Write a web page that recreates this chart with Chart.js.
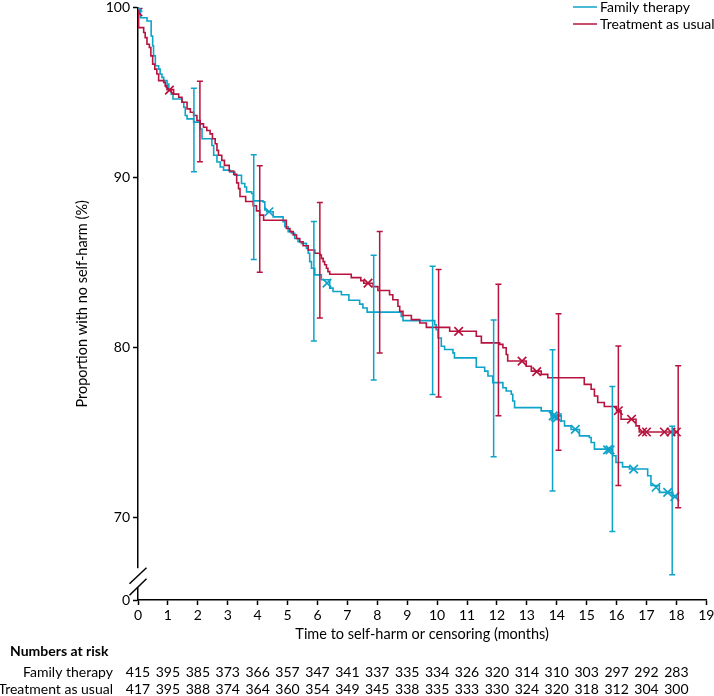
<!DOCTYPE html>
<html>
<head>
<meta charset="utf-8">
<script src="https://cdn.jsdelivr.net/npm/chart.js@4.4.1/dist/chart.umd.min.js"></script>
<style>
  html, body { margin: 0; padding: 0; background: #fff; }
  #wrap { width: 714px; height: 696px; }
</style>
</head>
<body>
<div id="wrap"><canvas id="kmChart" width="714" height="696"></canvas></div>
<script>
// Kaplan-Meier curves (step times in months, survival in %)
const ftTimes = [0, 0.08, 0.30, 0.44, 0.49, 0.52, 0.58, 0.69, 0.74, 0.80, 0.86, 0.97, 1.03, 1.11, 1.17, 1.47, 1.53, 1.58, 1.64, 1.86,
  2.08, 2.14, 2.47, 2.53, 2.64, 2.75, 2.86, 3.07, 3.24, 3.46, 3.57, 3.63, 3.80, 3.85, 4.18, 4.24, 4.30, 4.52, 4.85, 4.91,
  5.02, 5.13, 5.24, 5.35, 5.46, 5.63, 5.69, 5.74, 5.80, 5.91, 6.13, 6.41, 6.52, 6.80, 7.05, 7.41, 7.52, 7.66, 8.80, 8.86,
  9.92, 9.97, 10.03, 10.14, 10.25, 10.53, 10.58, 11.31, 11.59, 11.70, 11.86, 12.20, 12.31, 12.48, 12.53, 12.59, 13.48, 13.81,
  14.15, 14.26, 14.48, 14.76, 15.09, 15.15, 15.26, 15.87, 15.98, 16.20, 16.43, 17.04, 17.15, 17.43, 17.88, 18.00];
const ftSurv = [100, 99.41, 99.22, 98.34, 97.76, 97.17, 96.59, 96.39, 96.10, 95.90, 95.71, 95.51, 95.18, 94.92, 94.63, 94.44, 94.15, 93.66, 93.46, 93.27,
  92.87, 92.29, 91.90, 91.32, 90.93, 90.63, 90.45, 90.34, 90.15, 89.66, 89.46, 89.17, 89.07, 88.64, 88.58, 88.10, 88.00, 87.70, 87.41, 87.12,
  86.83, 86.73, 86.43, 86.24, 86.14, 85.85, 85.56, 85.07, 84.68, 84.29, 84.00, 83.51, 83.31, 83.12, 82.80, 82.57, 82.34, 82.10, 81.85, 81.60,
  81.36, 81.07, 80.58, 80.09, 79.90, 79.70, 79.41, 78.86, 78.63, 78.34, 77.95, 77.65, 77.46, 77.27, 76.87, 76.48, 76.29, 76.00,
  75.70, 75.41, 75.20, 74.82, 74.73, 74.43, 74.04, 73.65, 73.26, 73.00, 72.87, 72.48, 71.90, 71.50, 71.31, 71.12];

const tauTimes = [0, 0.02, 0.19, 0.24, 0.30, 0.38, 0.43, 0.49, 0.56, 0.63, 0.69, 0.86, 0.91, 0.97, 1.19, 1.36, 1.47, 1.64, 1.75, 1.86,
  1.97, 2.08, 2.19, 2.30, 2.41, 2.49, 2.58, 2.64, 2.69, 2.80, 2.89, 3.05, 3.20, 3.30, 3.36, 3.41, 3.60, 3.85, 3.96, 4.07,
  4.20, 4.96, 5.08, 5.19, 5.30, 5.41, 5.52, 5.69, 5.91, 6.08, 6.13, 6.19, 6.24, 6.30, 6.35, 6.41, 7.13, 7.45, 7.55, 7.86,
  8.02, 8.41, 8.52, 8.69, 8.75, 8.86, 9.14, 9.42, 9.64, 10.42, 11.31, 11.48, 12.09, 12.20, 12.31, 12.36, 12.98, 13.15, 13.48, 13.70,
  14.92, 15.15, 15.26, 15.37, 15.59, 16.00, 16.15, 16.65, 16.76, 18.05];
const tauSurv = [100, 98.83, 98.54, 98.24, 97.85, 97.66, 97.17, 96.68, 96.39, 96.10, 95.71, 95.61, 95.42, 95.18, 94.92, 94.73, 94.44, 94.05, 93.85, 93.66,
  93.37, 93.17, 92.97, 92.78, 92.58, 92.29, 92.00, 91.61, 91.32, 91.02, 90.73, 90.40, 90.20, 89.70, 89.36, 88.90, 88.60, 88.35, 88.05, 87.80,
  87.50, 87.02, 86.83, 86.63, 86.43, 86.24, 86.00, 85.75, 85.56, 85.46, 85.26, 85.07, 84.88, 84.68, 84.48, 84.33, 84.13, 83.95, 83.80, 83.60,
  83.37, 83.12, 82.83, 82.44, 82.14, 81.90, 81.66, 81.46, 81.20, 80.97, 80.68, 80.29, 80.20, 80.00, 79.61, 79.22, 78.92, 78.63, 78.44, 78.24,
  77.85, 77.56, 77.17, 76.78, 76.55, 76.30, 75.80, 75.41, 75.05, 75.05];

// censoring marks
const ftCensT = [0, 4.38, 6.32, 13.88, 13.95, 14.02, 14.62, 15.70, 15.78, 16.57, 17.32, 17.71, 17.95];
const ftCensS = [100, 88.0, 83.8, 76.0, 75.95, 75.9, 75.2, 74.0, 74.0, 72.87, 71.8, 71.5, 71.25];
const tauCensT = [0, 1.05, 7.69, 10.72, 12.84, 13.33, 16.06, 16.50, 16.87, 17.00, 17.60, 17.82, 18.00];
const tauCensS = [99.75, 95.15, 83.8, 80.97, 79.22, 78.6, 76.3, 75.8, 75.05, 75.05, 75.05, 75.05, 75.05];

// 95% CI bars
const ftCiT = [1.87, 3.87, 5.88, 7.88, 9.85, 11.89, 13.86, 15.86, 17.86];
const ftCiLo = [90.35, 85.2, 80.4, 78.1, 77.25, 73.6, 71.58, 69.2, 66.65];
const ftCiHi = [95.26, 91.35, 87.43, 85.44, 84.8, 81.64, 79.88, 77.72, 75.38];
const tauCiT = [2.07, 4.07, 6.08, 8.08, 10.05, 12.05, 14.06, 16.06, 18.06];
const tauCiLo = [90.94, 84.44, 81.75, 79.7, 77.1, 76.0, 73.98, 71.9, 70.6];
const tauCiHi = [95.67, 90.7, 88.54, 86.84, 84.6, 83.74, 82.0, 80.1, 78.95];

// axes
const xTickLabels = ['0', '1', '2', '3', '4', '5', '6', '7', '8', '9', '10', '11', '12', '13', '14', '15', '16', '17', '18', '19'];
const Y_FLOOR = 65.17;   // where the broken axis shows "0"
const Y_BREAK = 66.48;
const yTickValues = [Y_FLOOR, 70, 80, 90, 100];
const yTickLabels = ['0', '70', '80', '90', '100'];

// numbers at risk, month 0..18
const riskRows = ['Family therapy', 'Treatment as usual'];
const riskFT = [415, 395, 385, 373, 366, 357, 347, 341, 337, 335, 334, 326, 320, 314, 310, 303, 297, 292, 283];
const riskTAU = [417, 395, 388, 374, 364, 360, 354, 349, 345, 338, 335, 333, 330, 324, 320, 318, 312, 304, 300];

const BLUE = '#0ea3c9';
const RED = '#b8133f';
const FONT = 'Lato, "Liberation Sans", sans-serif';
const FS = 14;        // ticks, legend, table
const FS_TITLE = 14.5;

const toPts = (xs, ys) => xs.map((x, i) => ({ x: x, y: ys[i] }));

const overlay = {
  id: 'overlay',
  afterDatasetsDraw(chart) {
    const { ctx, scales: { x, y } } = chart;
    const bars = [[ftCiT, ftCiLo, ftCiHi, BLUE], [tauCiT, tauCiLo, tauCiHi, RED]];
    ctx.save();
    ctx.lineWidth = 1.5;
    bars.forEach(([ts, lo, hi, col]) => {
      ctx.strokeStyle = col;
      ts.forEach((t, i) => {
        const px = x.getPixelForValue(t);
        const y1 = y.getPixelForValue(lo[i]);
        const y2 = y.getPixelForValue(hi[i]);
        ctx.beginPath();
        ctx.moveTo(px, y1); ctx.lineTo(px, y2);
        ctx.moveTo(px - 3, y1); ctx.lineTo(px + 3, y1);
        ctx.moveTo(px - 3, y2); ctx.lineTo(px + 3, y2);
        ctx.stroke();
      });
    });
    ctx.restore();
  },
  afterDraw(chart) {
    const { ctx, scales: { x, y } } = chart;
    ctx.save();
    // broken y axis
    const ax = x.getPixelForValue(0);
    const yb = y.getPixelForValue(Y_BREAK);
    ctx.fillStyle = '#fff';
    ctx.fillRect(ax - 3, yb - 9.5, 6, 19);
    ctx.strokeStyle = '#000';
    ctx.lineWidth = 1.5;
    ctx.beginPath();
    ctx.moveTo(ax - 8.5, yb + 6); ctx.lineTo(ax + 8.5, yb - 10);
    ctx.moveTo(ax - 8.5, yb + 17.5); ctx.lineTo(ax + 8.5, yb + 1);
    ctx.stroke();

    // legend
    ctx.font = FS + 'px ' + FONT;
    ctx.textBaseline = 'middle';
    ctx.textAlign = 'left';
    [['Family therapy', BLUE, 7], ['Treatment as usual', RED, 24]].forEach(([txt, col, ly]) => {
      ctx.strokeStyle = col;
      ctx.beginPath();
      ctx.moveTo(573, ly); ctx.lineTo(597, ly);
      ctx.stroke();
      ctx.fillStyle = '#000';
      ctx.fillText(txt, 600, ly);
    });

    // numbers at risk
    ctx.fillStyle = '#000';
    ctx.font = 'bold ' + FS + 'px ' + FONT;
    ctx.fillText('Numbers at risk', 10, 651);
    ctx.font = FS + 'px ' + FONT;
    ctx.textAlign = 'right';
    ctx.fillText(riskRows[0], 113, 672);
    ctx.fillText(riskRows[1], 113, 689);
    ctx.textAlign = 'center';
    riskFT.forEach((n, i) => ctx.fillText(String(n), x.getPixelForValue(i), 672));
    riskTAU.forEach((n, i) => ctx.fillText(String(n), x.getPixelForValue(i), 689));
    ctx.restore();
  }
};

const lineDs = (label, pts, col) => ({
  type: 'line',
  label: label,
  data: pts,
  borderColor: col,
  borderWidth: 1.6,
  stepped: 'before',
  pointRadius: 0,
  fill: false,
  tension: 0
});

const censDs = (label, pts, col) => ({
  type: 'scatter',
  label: label,
  data: pts,
  borderColor: col,
  backgroundColor: col,
  pointStyle: 'crossRot',
  pointRadius: 6,
  borderWidth: 1.7
});

new Chart(document.getElementById('kmChart'), {
  type: 'line',
  data: {
    datasets: [
      censDs('FT censored', toPts(ftCensT, ftCensS), BLUE),
      censDs('TAU censored', toPts(tauCensT, tauCensS), RED),
      lineDs('Treatment as usual', toPts(tauTimes, tauSurv), RED),
      lineDs('Family therapy', toPts(ftTimes, ftSurv), BLUE)
    ]
  },
  options: {
    responsive: false,
    animation: false,
    devicePixelRatio: 1,
    layout: { padding: { left: 72, right: 7, top: 5, bottom: 51 } },
    plugins: { legend: { display: false }, tooltip: { enabled: false } },
    scales: {
      x: {
        type: 'linear',
        min: 0,
        max: 19,
        border: { color: '#000', width: 1.5 },
        grid: { drawOnChartArea: false, drawTicks: true, tickLength: 5, tickColor: '#000', tickWidth: 1.5 },
        ticks: {
          stepSize: 1, autoSkip: false, maxRotation: 0, padding: 2, color: '#000',
          font: { family: FONT, size: FS },
          callback: (v) => xTickLabels[v]
        },
        title: {
          display: true, text: 'Time to self-harm or censoring (months)', color: '#000',
          font: { family: FONT, size: FS_TITLE }, padding: { top: 2, bottom: 2 }
        },
        afterFit: (s) => { s.height = 45; s.paddingLeft = 0; s.paddingRight = 0; }
      },
      y: {
        type: 'linear',
        min: Y_FLOOR,
        max: 100,
        border: { color: '#000', width: 1.5 },
        grid: { drawOnChartArea: false, drawTicks: true, tickLength: 5, tickColor: '#000', tickWidth: 1.5 },
        afterBuildTicks: (s) => { s.ticks = yTickValues.map(v => ({ value: v })); },
        ticks: {
          autoSkip: false, padding: 3, color: '#000',
          font: { family: FONT, size: FS },
          callback: (v) => yTickLabels[yTickValues.indexOf(v)]
        },
        title: {
          display: true, text: 'Proportion with no self-harm (%)', color: '#000',
          font: { family: FONT, size: FS_TITLE }, padding: { top: 2, bottom: 2 }
        },
        afterFit: (s) => { s.width = 66; s.paddingTop = 0; s.paddingBottom = 0; }
      }
    }
  },
  plugins: [overlay]
});
</script>
</body>
</html>
